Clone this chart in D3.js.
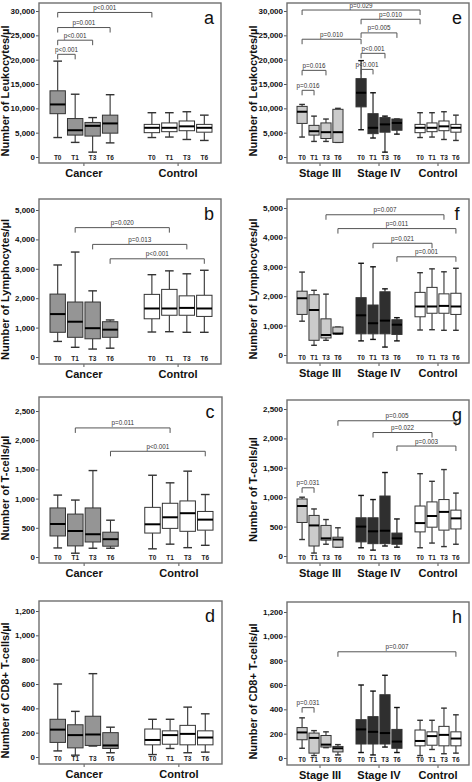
<!DOCTYPE html>
<html><head><meta charset="utf-8">
<script src="https://cdn.jsdelivr.net/npm/d3@7/dist/d3.min.js"></script>
<style>body{margin:0;background:#fff}svg{display:block}</style>
</head><body><svg id="chart" width="472" height="782"></svg>
<script>
// ---- categories ----
const timepoints = ["T0","T1","T3","T6"];
const groupsTwo = ["Cancer","Control"];
const groupsThree = ["Stage III","Stage IV","Control"];

// ---- box stats: [lower whisker, Q1, median, Q3, upper whisker] per timepoint ----
const leukoCancer  = [[4000,8900,10800,13600,19700],[3000,4500,5500,7900,12900],[1000,4300,6400,7100,8100],[2900,4900,6900,8600,12800]];
const leukoControl = [[4000,5000,6000,6700,9100],[4100,5200,6000,7000,9100],[3600,5400,6300,7400,9300],[3400,5100,6000,6700,8600]];
const leukoStage3  = [[4100,6900,9300,10400,10800],[3200,4500,5300,6500,8400],[3200,3800,5100,7000,7800],[3000,3000,5100,9800,10000]];
const leukoStage4  = [[5600,10300,13200,16100,19800],[3900,4800,6000,8900,13200],[1000,5100,6700,8100,8400],[4700,5500,7000,7800,7800]];

const lymphoCancer  = [[530,840,1460,2140,3130],[330,670,1200,1870,3570],[270,620,980,1870,2250],[300,670,930,1200,1260]];
const lymphoControl = [[850,1300,1650,2130,2800],[860,1420,1650,2300,2930],[840,1420,1670,2080,2830],[840,1380,1650,2100,2950]];
const lymphoStage3  = [[1150,1380,1930,2170,2820],[330,500,1530,2050,2200],[500,580,680,1230,2070],[720,720,730,950,950]];
const lymphoStage4  = [[480,720,1350,1950,3120],[530,720,1080,1700,3000],[270,720,1170,2150,2250],[480,700,1030,1200,1270]];

const tcellCancer  = [[155,360,565,840,1060],[65,190,445,735,975],[150,257,390,840,1480],[150,185,305,425,630]];
const tcellControl = [[140,410,560,850,1400],[220,490,680,920,1270],[160,440,750,960,1470],[200,460,640,780,1070]];
const tcellStage3  = [[280,570,850,970,1000],[50,170,520,690,800],[200,270,300,520,620],[150,150,280,320,480]];
const tcellStage4  = [[140,240,500,650,1030],[100,210,420,650,960],[170,210,430,1020,1420],[150,200,300,390,630]];

const cd8Cancer  = [[50,120,225,310,600],[15,75,180,265,375],[90,95,185,335,685],[35,70,95,200,245]];
const cd8Control = [[20,100,140,230,310],[70,105,180,215,310],[35,100,190,260,410],[40,100,160,215,355]];
const cd8Stage3  = [[80,150,210,250,330],[20,40,165,205,225],[85,90,110,185,215],[25,50,80,95,110]];
const cd8Stage4  = [[45,115,235,315,600],[25,115,215,340,550],[90,115,205,520,680],[45,80,135,235,415]];

// ---- significance brackets: [fromGroup, fromTime, toGroup, toTime, level, label] ----
const bracketsA = [[0,0,1,0,29700,"p<0.001"],[0,0,0,3,26600,"p=0.001"],[0,0,0,2,24000,"p<0.001"],[0,0,0,1,21100,"p<0.001"]];
const bracketsE = [[0,0,2,0,30200,"p=0.029"],[1,0,2,0,28300,"p=0.010"],[1,0,1,3,25500,"p=0.005"],[0,0,1,0,24200,"p=0.010"],[1,0,1,2,21300,"p<0.001"],[1,0,1,1,18000,"p<0.001"],[0,0,0,2,17800,"p=0.016"],[0,0,0,1,13700,"p=0.016"]];
const bracketsB = [[0,1,1,1,4400,"p=0.020"],[0,2,1,2,3830,"p=0.013"],[0,3,1,3,3340,"p<0.001"]];
const bracketsF = [[0,2,2,2,4770,"p=0.007"],[0,3,2,3,4300,"p=0.011"],[1,1,2,1,3800,"p=0.021"],[1,3,2,3,3340,"p=0.001"]];
const bracketsC = [[0,1,1,1,2210,"p=0.011"],[0,3,1,3,1810,"p<0.001"]];
const bracketsG = [[0,3,2,3,2300,"p=0.005"],[1,1,2,1,2100,"p=0.022"],[1,3,2,3,1870,"p=0.003"],[0,0,0,1,1160,"p=0.031"]];
const bracketsD = [];
const bracketsH = [[0,3,2,3,873,"p=0.007"],[0,0,0,1,414,"p=0.031"]];

// ---- axis tick settings ----
const leukoTicks = d3.range(0, 30001, 5000);
const lymphoTicks = d3.range(0, 5001, 1000);
const tcellTicks = d3.range(0, 2501, 500);
const cd8Ticks = d3.range(0, 1201, 200);

// ---- styling ----
const fillCancer = "#959595", fillControl = "#ffffff", fillStage3 = "#cbcbcb", fillStage4 = "#2f2f2f";

const panels = [
  {letter:"a", title:"Number of Leukocytes/µl", groups:groupsTwo, data:[leukoCancer,leukoControl], fills:[fillCancer,fillControl], ticks:leukoTicks, brackets:bracketsA, frame:[39,3,221,163], yr:[157,11]},
  {letter:"e", title:"Number of Leukocytes/µl", groups:groupsThree, data:[leukoStage3,leukoStage4,leukoControl], fills:[fillStage3,fillStage4,fillControl], ticks:leukoTicks, brackets:bracketsE, frame:[287,3,469,163], yr:[157,11]},
  {letter:"b", title:"Number of Lymphocytes/µl", groups:groupsTwo, data:[lymphoCancer,lymphoControl], fills:[fillCancer,fillControl], ticks:lymphoTicks, brackets:bracketsB, frame:[39,199,221,364], yr:[357,210]},
  {letter:"f", title:"Number of Lymphocytes/µl", groups:groupsThree, data:[lymphoStage3,lymphoStage4,lymphoControl], fills:[fillStage3,fillStage4,fillControl], ticks:lymphoTicks, brackets:bracketsF, frame:[287,199,469,363], yr:[355,208]},
  {letter:"c", title:"Number of T-cells/µl", groups:groupsTwo, data:[tcellCancer,tcellControl], fills:[fillCancer,fillControl], ticks:tcellTicks, brackets:bracketsC, frame:[39,397,222,563], yr:[557,411]},
  {letter:"g", title:"Number of T-cells/µl", groups:groupsThree, data:[tcellStage3,tcellStage4,tcellControl], fills:[fillStage3,fillStage4,fillControl], ticks:tcellTicks, brackets:bracketsG, frame:[287,400,469,563], yr:[556,409]},
  {letter:"d", title:"Number of CD8+ T-cells/µl", groups:groupsTwo, data:[cd8Cancer,cd8Control], fills:[fillCancer,fillControl], ticks:cd8Ticks, brackets:bracketsD, frame:[39,601,222,764], yr:[757,611]},
  {letter:"h", title:"Number of CD8+ T-cells/µl", groups:groupsThree, data:[cd8Stage3,cd8Stage4,cd8Control], fills:[fillStage3,fillStage4,fillControl], ticks:cd8Ticks, brackets:bracketsH, frame:[287,602,469,765], yr:[758,612]}
];

const svg = d3.select("#chart");
const FONT = "'Liberation Sans', Arial, sans-serif";

panels.forEach(p => {
  const [x0, y0, x1, y1] = p.frame;
  const g = svg.append("g");
  const two = p.groups.length === 2;
  const gx = d3.scaleBand().domain(p.groups)
    .range(two ? [x0 + 11, x1 - 9] : [x0 + 10, x1 - 8])
    .paddingInner(two ? 0.28 : 0.22).paddingOuter(0);
  const tx = d3.scaleBand().domain(timepoints).range([0, gx.bandwidth()])
    .paddingInner(two ? 0.12 : 0.15).paddingOuter(0);
  const y = d3.scaleLinear().domain([0, d3.max(p.ticks)]).range(p.yr);
  const cx = (gi, ti) => gx(p.groups[gi]) + tx(timepoints[ti]) + tx.bandwidth() / 2;
  const bw = tx.bandwidth();

  // y axis
  const ya = g.append("g").attr("transform", `translate(${x0},0)`)
    .call(d3.axisLeft(y).tickValues(p.ticks).tickFormat(d3.format(",")).tickSize(3).tickPadding(1));
  ya.select(".domain").remove();
  ya.selectAll("line").attr("stroke", "#555");
  ya.selectAll("text").attr("font-family", FONT).attr("font-weight", "bold").attr("font-size", 8).attr("fill", "#111");

  // x axis (group ticks + labels)
  const xa = g.append("g").attr("transform", `translate(0,${y1})`)
    .call(d3.axisBottom(gx).tickSize(3).tickPadding(3));
  xa.select(".domain").remove();
  xa.selectAll("line").attr("stroke", "#555");
  xa.selectAll("text").attr("font-family", FONT).attr("font-weight", "bold").attr("font-size", 11).attr("fill", "#111");

  // y title
  g.append("text")
    .attr("transform", `translate(${two ? 9 : 257},${(y0 + y1) / 2 + 8}) rotate(-90)`)
    .attr("text-anchor", "middle").attr("font-family", FONT).attr("font-weight", "bold")
    .attr("font-size", 11).attr("fill", "#111").text(p.title);

  // boxes
  p.data.forEach((series, gi) => {
    series.forEach((s, ti) => {
      const c = cx(gi, ti);
      const [lo, q1, med, q3, hi] = s;
      const bg = g.append("g");
      const dark = p.fills[gi] === fillStage4;
      const lc = dark ? "#111" : "#333";
      bg.append("line").attr("x1", c).attr("x2", c).attr("y1", y(hi)).attr("y2", y(q3)).attr("stroke", lc).attr("stroke-width", 1.1);
      bg.append("line").attr("x1", c).attr("x2", c).attr("y1", y(q1)).attr("y2", y(lo)).attr("stroke", lc).attr("stroke-width", 1.1);
      bg.append("line").attr("x1", c - bw * 0.28).attr("x2", c + bw * 0.28).attr("y1", y(hi)).attr("y2", y(hi)).attr("stroke", lc).attr("stroke-width", 1.4);
      bg.append("line").attr("x1", c - bw * 0.28).attr("x2", c + bw * 0.28).attr("y1", y(lo)).attr("y2", y(lo)).attr("stroke", lc).attr("stroke-width", 1.4);
      bg.append("rect").attr("x", c - bw / 2).attr("y", y(q3)).attr("width", bw).attr("height", Math.max(0.5, y(q1) - y(q3)))
        .attr("fill", p.fills[gi]).attr("stroke", "#333").attr("stroke-width", 1);
      bg.append("line").attr("x1", c - bw / 2).attr("x2", c + bw / 2).attr("y1", y(med)).attr("y2", y(med)).attr("stroke", "#000").attr("stroke-width", 2);
      // time label
      g.append("text").attr("x", c).attr("y", y1 - 3).attr("text-anchor", "middle")
        .attr("font-family", FONT).attr("font-weight", "bold").attr("font-size", 6.5).attr("fill", "#222")
        .text(timepoints[ti]);
    });
  });

  // brackets
  p.brackets.forEach(b => {
    const [ga, ta, gb, tb, lvl, label] = b;
    const xa_ = cx(ga, ta), xb_ = cx(gb, tb), yy = y(lvl);
    g.append("path").attr("d", `M${xa_},${yy + 5}V${yy}H${xb_}V${yy + 5}`)
      .attr("fill", "none").attr("stroke", "#555").attr("stroke-width", 1);
    g.append("text").attr("x", (xa_ + xb_) / 2).attr("y", yy - 2.5).attr("text-anchor", "middle")
      .attr("font-family", FONT).attr("font-size", 6.3).attr("fill", "#333").text(label);
  });

  // frame
  g.append("rect").attr("x", x0).attr("y", y0).attr("width", x1 - x0).attr("height", y1 - y0)
    .attr("fill", "none").attr("stroke", "#6f6f6f").attr("stroke-width", 1.4);

  // panel letter
  g.append("text").attr("x", x1 - 12).attr("y", y0 + 21).attr("text-anchor", "middle")
    .attr("font-family", FONT).attr("font-size", 18).attr("fill", "#111").text(p.letter);
});
</script></body></html>
